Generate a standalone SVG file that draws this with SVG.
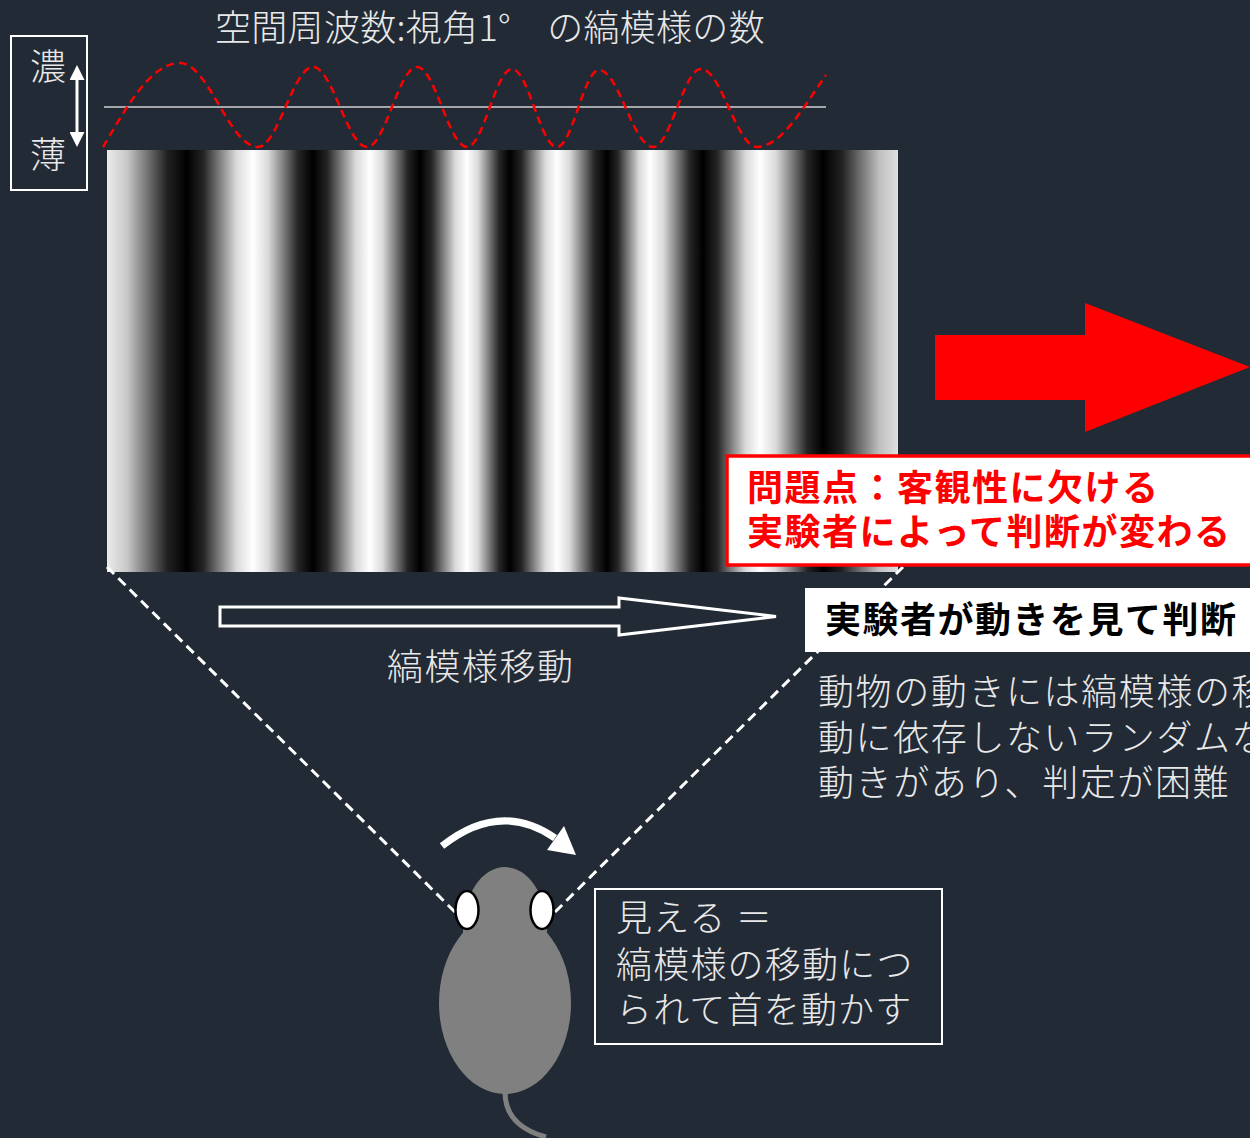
<svg xmlns="http://www.w3.org/2000/svg" width="1250" height="1138" viewBox="0 0 1250 1138">
  <style>
    text { font-family: 'Noto Sans CJK JP', 'Noto Sans', sans-serif; }
    .lt { fill: #e8e8e8; font-weight: 300; font-size: 36px; letter-spacing: 1.5px; }
    .bd { font-weight: 700; font-size: 36px; letter-spacing: 1.5px; }
    .k { stop-color: #000000; }
    .d { stop-color: #252525; }
    .m { stop-color: #808080; }
    .l { stop-color: #dadada; }
    .w { stop-color: #ffffff; }
    .sight { fill: none; stroke: #ffffff; stroke-width: 3; stroke-dasharray: 10 6; }
    .frame { fill: none; stroke: #ffffff; stroke-width: 2; }
  </style>
  <defs>
    <!-- sinusoidal luminance profile with period shortening toward the middle -->
    <linearGradient id="grating" gradientUnits="userSpaceOnUse" x1="0" y1="0" x2="1000" y2="0">
      <stop offset="0.107" stop-color="#ebebeb"/>
      <stop offset="0.127" stop-color="#c8c8c8"/>
      <stop offset="0.147" stop-color="#757575"/>
      <stop offset="0.167" stop-color="#222222"/>
      <stop offset="0.187" class="k"/>
      <stop offset="0.2035" class="d"/>
      <stop offset="0.220" class="m"/>
      <stop offset="0.2365" class="l"/>
      <stop offset="0.253" class="w"/>
      <stop offset="0.268" class="l"/>
      <stop offset="0.283" class="m"/>
      <stop offset="0.298" class="d"/>
      <stop offset="0.313" class="k"/>
      <stop offset="0.32725" class="d"/>
      <stop offset="0.3415" class="m"/>
      <stop offset="0.35575" class="l"/>
      <stop offset="0.370" class="w"/>
      <stop offset="0.3825" class="l"/>
      <stop offset="0.395" class="m"/>
      <stop offset="0.4075" class="d"/>
      <stop offset="0.420" class="k"/>
      <stop offset="0.43175" class="d"/>
      <stop offset="0.4435" class="m"/>
      <stop offset="0.45525" class="l"/>
      <stop offset="0.467" class="w"/>
      <stop offset="0.47775" class="l"/>
      <stop offset="0.4885" class="m"/>
      <stop offset="0.49925" class="d"/>
      <stop offset="0.510" class="k"/>
      <stop offset="0.52175" class="d"/>
      <stop offset="0.5335" class="m"/>
      <stop offset="0.54525" class="l"/>
      <stop offset="0.557" class="w"/>
      <stop offset="0.5695" class="l"/>
      <stop offset="0.582" class="m"/>
      <stop offset="0.5945" class="d"/>
      <stop offset="0.607" class="k"/>
      <stop offset="0.61775" class="d"/>
      <stop offset="0.6285" class="m"/>
      <stop offset="0.63925" class="l"/>
      <stop offset="0.650" class="w"/>
      <stop offset="0.66325" class="l"/>
      <stop offset="0.6765" class="m"/>
      <stop offset="0.68975" class="d"/>
      <stop offset="0.703" class="k"/>
      <stop offset="0.71725" class="d"/>
      <stop offset="0.7315" class="m"/>
      <stop offset="0.74575" class="l"/>
      <stop offset="0.760" class="w"/>
      <stop offset="0.77575" class="l"/>
      <stop offset="0.7915" class="m"/>
      <stop offset="0.80725" class="d"/>
      <stop offset="0.823" class="k"/>
      <stop offset="0.84175" stop-color="#212121"/>
      <stop offset="0.8605" stop-color="#707070"/>
      <stop offset="0.87925" stop-color="#bfbfbf"/>
      <stop offset="0.898" stop-color="#e0e0e0"/>
    </linearGradient>
    <marker id="tri" viewBox="0 0 10 10" refX="2" refY="5" markerWidth="5" markerHeight="5" orient="auto-start-reverse" markerUnits="strokeWidth">
      <path d="M0,0 L10,5 L0,10 Z" fill="#ffffff"/>
    </marker>
  </defs>

  <rect width="1250" height="1138" fill="#222a35"/>

  <!-- heading -->
  <text id="title" class="lt" x="215" y="41" style="letter-spacing:0.3px">空間周波数:視角1°　の縞模様の数</text>

  <!-- contrast scale -->
  <g id="contrast-scale">
    <rect class="frame" x="11" y="36" width="76" height="154"/>
    <text class="lt" x="30" y="80" font-size="35">濃</text>
    <text class="lt" x="30" y="168" font-size="35">薄</text>
    <line x1="77" y1="77" x2="77" y2="135" stroke="#ffffff" stroke-width="3" marker-start="url(#tri)" marker-end="url(#tri)"/>
  </g>

  <!-- luminance profile -->
  <g id="profile">
    <line x1="104" y1="107" x2="826" y2="107" stroke="#d0d0d0" stroke-width="1.5"/>
    <path fill="none" stroke="#ff0000" stroke-width="2.5" stroke-dasharray="8 5"
      d="M103,147 C125,110 150,63 180,63
         C208.4,63 229.6,147 258,147
         C278,147 293,67 313,67
         C332.7,67 347.3,147 367,147
         C385.2,147 398.8,67 417,67
         C435.2,67 448.8,147 467,147
         C483.4,147 495.6,69 512,69
         C528.4,69 540.6,147 557,147
         C572.3,147 583.7,70 599,70
         C618.7,70 633.3,147 653,147
         C670.5,147 683.5,69 701,69
         C721.4,69 736.6,147 757,147
         C782,147 806,103 826,75"/>
  </g>

  <!-- grating stimulus -->
  <g id="grating-stimulus">
    <rect x="107" y="150" width="791" height="422" fill="url(#grating)"/>
  </g>

  <!-- red arrow -->
  <g id="result-arrow">
    <polygon points="935,335 1085,335 1085,303 1250,367 1085,432 1085,400 935,400" fill="#ff0000"/>
  </g>

  <!-- lines of sight -->
  <g id="connectors">
    <line class="sight" x1="107" y1="567" x2="457" y2="914"/>
    <line class="sight" x1="903" y1="567" x2="553" y2="914"/>
  </g>

  <!-- problem callout -->
  <g id="problem">
    <rect x="727" y="456" width="540" height="109" fill="#ffffff" stroke="#ff0000" stroke-width="3.5"/>
    <text class="bd" x="747" y="501" fill="#ff0000">問題点：客観性に欠ける</text>
    <text class="bd" x="747" y="545" fill="#ff0000">実験者によって判断が変わる</text>
  </g>

  <!-- judgement label -->
  <g id="judgement">
    <rect x="805" y="588" width="460" height="64" fill="#ffffff"/>
    <text class="bd" x="825" y="633" fill="#000000">実験者が動きを見て判断</text>
  </g>

  <!-- pattern movement -->
  <g id="movement">
    <polygon points="220,607 619,607 619,598 776,616.5 619,635 619,626 220,626" fill="none" stroke="#ffffff" stroke-width="3"/>
    <text class="lt" x="387" y="680">縞模様移動</text>
  </g>

  <!-- difficulty note -->
  <g id="note">
    <text class="lt" x="818" y="705" style="letter-spacing:1.6px">動物の動きには縞模様の移</text>
    <text class="lt" x="818" y="751" style="letter-spacing:1.6px">動に依存しないランダムな</text>
    <text class="lt" x="818" y="796" style="letter-spacing:1.6px">動きがあり、判定が困難</text>
  </g>

  <!-- mouse seen from above -->
  <g id="mouse">
    <path d="M505,1092 C505,1115 520,1130 546,1137" fill="none" stroke="#808080" stroke-width="5"/>
    <ellipse cx="505" cy="930" rx="42" ry="63" fill="#808080"/>
    <ellipse cx="505" cy="1003" rx="66" ry="91" fill="#808080"/>
    <ellipse cx="467" cy="910" rx="11.5" ry="19" fill="#ffffff" stroke="#000000" stroke-width="2.5"/>
    <ellipse cx="542" cy="910" rx="11.5" ry="19" fill="#ffffff" stroke="#000000" stroke-width="2.5"/>
  </g>

  <!-- head turn -->
  <g id="head-turn">
    <path d="M442,846 Q500,800 555,838" fill="none" stroke="#ffffff" stroke-width="7"/>
    <polygon points="576,855 547,850 564,826" fill="#ffffff"/>
  </g>

  <!-- response caption -->
  <g id="response">
    <rect class="frame" x="595" y="889" width="347" height="155"/>
    <text class="lt" x="616" y="931" style="letter-spacing:1.2px">見える ＝</text>
    <text class="lt" x="616" y="978" style="letter-spacing:1.2px">縞模様の移動につ</text>
    <text class="lt" x="616" y="1023" style="letter-spacing:1.2px">られて首を動かす</text>
  </g>
</svg>
